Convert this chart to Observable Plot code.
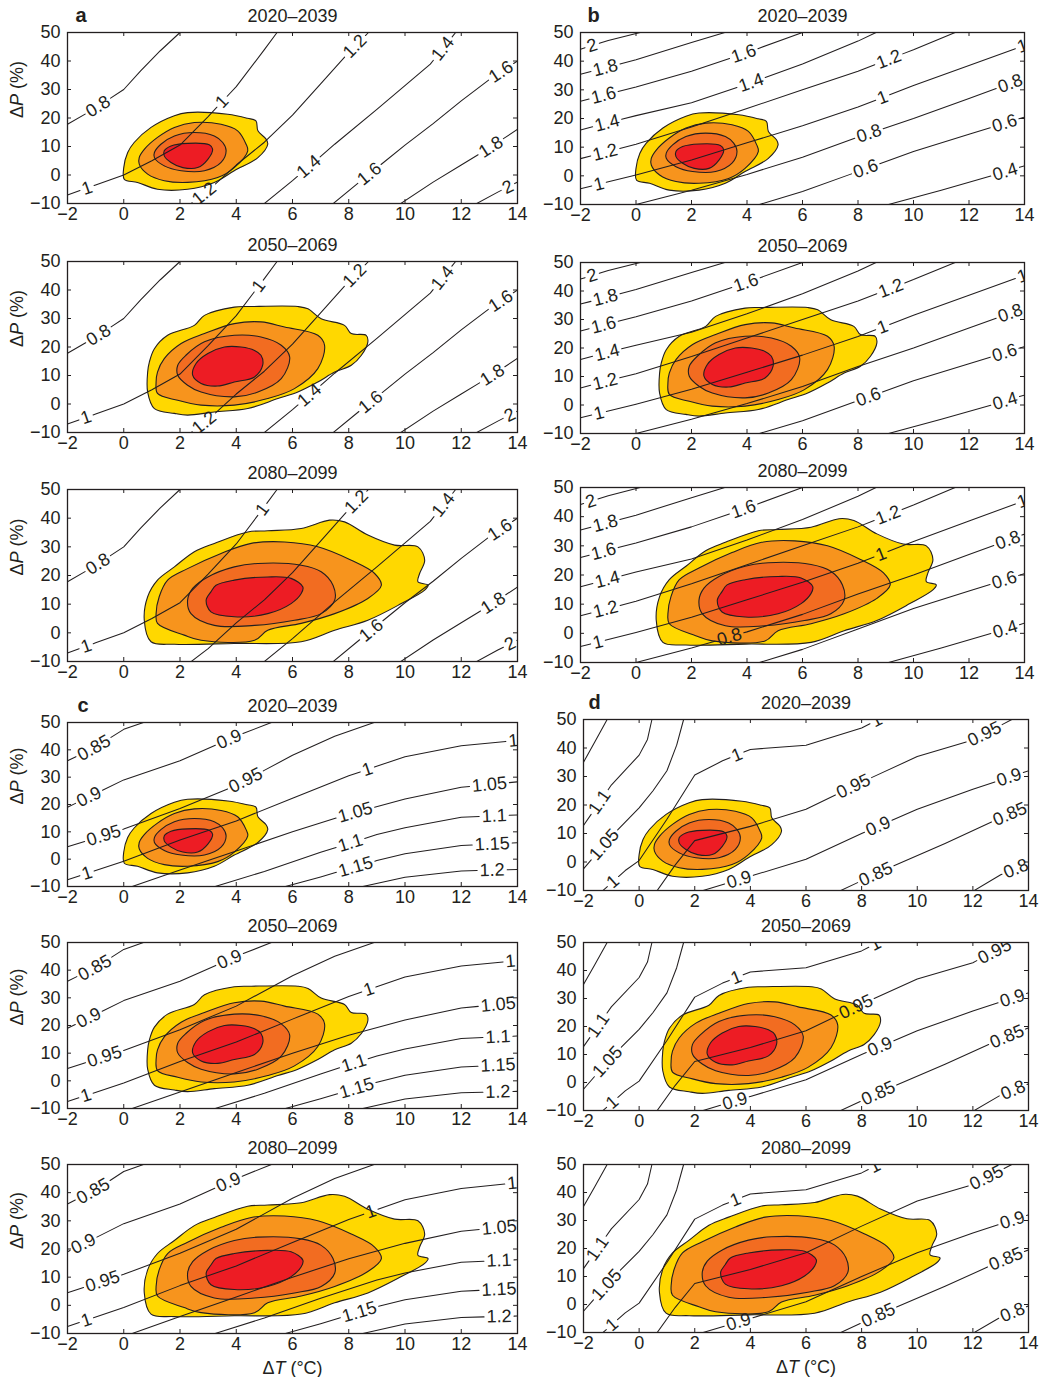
<!DOCTYPE html>
<html><head><meta charset="utf-8">
<script src="https://cdn.jsdelivr.net/npm/d3@7"></script>
<script src="https://cdn.jsdelivr.net/npm/@observablehq/plot@0.6"></script>
<style>
body{margin:0;background:#fff;}
#fig{position:relative;width:1052px;height:1377px;overflow:hidden;font-family:"Liberation Sans",Arial,Helvetica,sans-serif;}
#fig svg{position:absolute;overflow:visible;}
</style></head><body><div id="fig"></div>
<script>
// ---------------- data ----------------
const groupLetters = ["a","b","c","d"];
const periods = ["2020–2039","2050–2069","2080–2099"];
const xTicks = [-2,0,2,4,6,8,10,12,14];
const yTicks = [-10,0,10,20,30,40,50];
const blobColors = ["#FFD800","#F7941D","#F26C21","#ED1C24"];

// contour lines of the response surfaces (ΔT, ΔP)
const contoursA = [
  {level:"0.8", pts:[[-2,17.8],[-1,23.5],[0,30],[0.6,36.5],[1.3,43.6],[2,50]]},
  {level:"1",   pts:[[-2,-7],[-1,-3.5],[0,0],[1,5],[2,10.5],[3,20.5],[4,31],[5,44],[5.45,50]]},
  {level:"1.2", pts:[[2.4,-10],[3,-5.5],[4,3.5],[5,11.5],[6,21],[7,32],[8,43],[8.7,50]]},
  {level:"1.4", pts:[[5,-10],[6,-2],[7.5,10.8],[9,23],[10.9,38.9],[11.8,50]]},
  {level:"1.6", pts:[[7.45,-10],[8.5,-1.5],[10,10.5],[11,18],[12,26],[13,33.5],[14,40]]},
  {level:"1.8", pts:[[9.85,-10],[11,-2.5],[12,3.5],[13,9.5],[14,16]]},
  {level:"2",   pts:[[12.55,-10],[13.3,-6],[14,-2.5]]}
];
const contoursB = [
  {level:"2",   pts:[[-2,44.2],[-1,47.2],[0.15,50]]},
  {level:"1.8", pts:[[-2,35.4],[0,40.5],[2,46.5],[3.2,50]]},
  {level:"1.6", pts:[[-2,26],[0,31],[2,36.5],[4,43],[6,50]]},
  {level:"1.4", pts:[[-2,16],[0,21],[2,25.5],[4,32],[6,39],[8,47],[8.65,50]]},
  {level:"1.2", pts:[[-2,6],[0,11],[2,17],[4,23.5],[6,30],[8,36.5],[10,44],[11.5,50]]},
  {level:"1",   pts:[[-2,-4.5],[0,0.3],[2,5.5],[4,11.5],[6,17.5],[8,24],[10,31.5],[12,38.5],[14,45.5]]},
  {level:"0.8", pts:[[0,-10],[2,-5],[4,0.5],[6,6.5],[8,13.5],[10,20],[12,27],[14,34]]},
  {level:"0.6", pts:[[4.45,-10],[6,-5.5],[8,1.5],[10,8.5],[12,14.5],[14,20.5]]},
  {level:"0.4", pts:[[9.1,-10],[11,-5],[13,0.5],[14,3.5]]}
];
const contoursC = [
  {level:"0.85", pts:[[-2,36],[-1,41],[0,47.5],[0.7,50]]},
  {level:"0.9",  pts:[[-2,19],[0,29],[2,36],[4,45],[5.25,50]]},
  {level:"0.95", pts:[[-2,4.5],[0,11],[2,18.5],[4,27],[6,38],[7.5,45],[8.9,50]]},
  {level:"1",    pts:[[-2,-7.5],[0,-0.8],[2,7],[4,14],[6,22.3],[8,30.5],[10,37.5],[12,41.5],[14,43.5]]},
  {level:"1.05", pts:[[0.3,-10],[2,-4],[4,3],[6,10],[8,16.5],[10,22],[12,26.3],[14,28.3]]},
  {level:"1.1",  pts:[[3.25,-10],[5,-4.5],[7,2.5],[9,9],[10,11.5],[12,15.3],[14,16.2]]},
  {level:"1.15", pts:[[5.75,-10],[7,-6.5],[9,-0.5],[10,2],[12,5],[14,6]]},
  {level:"1.2",  pts:[[8.5,-10],[10,-6.6],[12,-4.3],[14,-3.8]]}
];
const contoursD = [
  {level:"1.15", pts:[[-2,35],[-1.6,42],[-1.15,50]]},
  {level:"1.1",  pts:[[-2,12.8],[-1,27],[0,37.5],[0.3,43],[0.46,50]]},
  {level:"1.05", pts:[[-2,-2.4],[-1,9],[0,19],[0.5,25],[1,32],[1.35,41],[1.6,50]]},
  {level:"1",    pts:[[-1.3,-10],[-0.5,-3],[0,0.5],[1,15],[2,30.5],[3,35.5],[4,39.5],[6,41],[8,47],[8.6,50]]},
  {level:"0.95", pts:[[0.65,-10],[1.3,-1],[2,7.5],[4,12.5],[6,18.5],[8,28],[10,37],[12,42.8],[13.4,50]]},
  {level:"0.9",  pts:[[2.3,-10],[4,-5],[6,1],[8,10],[10,18.5],[12,25.5],[14,32]]},
  {level:"0.85", pts:[[7.25,-10],[9,-2],[11,6.5],[13,15.5],[14,19.5]]},
  {level:"0.8",  pts:[[12.05,-10],[13,-4.5],[14,-0.5]]}
];

// inline contour labels per panel: [text, ΔT, ΔP]
const labelsA = [
  [["0.8",-0.93,24.3],["1",-1.29,-5],["1",3.4,26.6],["1.2",2.87,-6.7],["1.2",8.27,44.7],["1.4",6.66,2.0],["1.4",11.3,44.7],["1.6",8.74,0.3],["1.6",13.43,36],["1.8",13.07,9.6],["2",13.67,-4.4]],
  [["0.8",-0.93,24.7],["1",-1.35,-4.5],["1",4.77,41.6],["1.2",2.75,-5.1],["1.2",8.27,44.5],["1.4",6.6,3.1],["1.4",11.3,44.5],["1.6",8.8,0.4],["1.6",13.43,35.8],["1.8",13.07,10.7],["2",13.7,-3.3]],
  [["0.8",-0.93,24.2],["1",-1.35,-4.3],["1",4.88,43.4],["1.2",8.33,45.1],["1.4",11.3,45.1],["1.6",8.8,0.9],["1.6",13.43,35.2],["1.8",13.07,11.4],["2",13.7,-3.1]]
];
const labelsB = [
  [["2",-1.6,46.1],["1.8",-1.1,37.7],["1.6",-1.16,27.8],["1.4",-1.04,18.4],["1.2",-1.1,7.9],["1",-1.34,-2.6],["1.6",3.89,42.4],["1.4",4.13,33],["1.2",9.11,40.6],["1",8.87,27.8],["1",13.9,45.9],["0.8",8.39,14.9],["0.8",13.5,31.9],["0.6",8.27,2.6],["0.6",13.3,17.8],["0.4",13.3,1.5]],
  [["2",-1.6,46.1],["1.8",-1.1,37.7],["1.6",-1.16,27.8],["1.4",-1.04,18.4],["1.2",-1.1,7.9],["1",-1.34,-2.6],["1.6",3.95,43.3],["1.2",9.17,41.2],["1",8.81,29.3],["1",13.9,45.9],["0.8",13.5,31.9],["0.6",8.38,2.6],["0.6",13.3,17.8],["0.4",13.3,1.5]],
  [["2",-1.64,45.6],["1.8",-1.1,37.6],["1.6",-1.16,27.9],["1.4",-1.04,18.7],["1.2",-1.1,8.4],["1",-1.4,-2],["1.6",3.89,42.2],["1.2",9.11,40],["1",8.75,29],["1",13.9,45.9],["0.8",13.4,31.9],["0.8",3.35,-0.8],["0.6",13.3,17.5],["0.4",13.3,1.5]]
];
const labelsC = [
  [["0.85",-1.05,40.5],["0.9",-1.23,22.7],["0.95",-0.75,9.9],["1",-1.31,-5.1],["0.9",3.71,44.7],["0.95",4.3,29.5],["1",8.65,33.1],["1",13.85,43.5],["1.05",8.23,17.2],["1.05",13,27.6],["1.1",8.05,6.2],["1.1",13.17,16],["1.15",8.23,-2.3],["1.15",13.1,5.6],["1.2",13.1,-4.2]],
  [["0.85",-1.07,41.7],["0.9",-1.25,22.9],["0.95",-0.72,9.9],["1",-1.36,-4.8],["0.9",3.73,44.6],["1",8.7,33.4],["1",13.75,43.5],["1.05",13.3,29],["1.1",8.13,8],["1.1",13.3,16.9],["1.15",8.27,-2.2],["1.15",13.3,6.8],["1.2",13.3,-2.2]],
  [["0.85",-1.16,42],["0.9",-1.46,22.4],["0.9",3.72,43.8],["0.95",-0.8,10],["1",-1.36,-4.3],["1",8.77,33.7],["1",13.82,42.6],["1.05",13.34,28.4],["1.1",13.34,16.5],["1.15",8.35,-1.3],["1.15",13.34,6.4],["1.2",13.34,-2.5]]
];
const labelsD = [
  [["1.1",-1.34,20.5],["1.05",-1.22,5.8],["1",-0.92,-7.1],["1",3.52,37.5],["1",8.55,49.5],["0.95",7.72,26.3],["0.95",12.47,43.9],["0.9",3.58,-5.9],["0.9",8.56,13.4],["0.9",13.3,29.8],["0.85",8.5,-4.1],["0.85",13.3,17.5],["0.8",13.55,-2.4]],
  [["1.1",-1.36,19.7],["1.05",-1.04,6.6],["1",-0.92,-7.6],["1",3.49,37.5],["1",8.5,49.4],["0.95",7.78,27.4],["0.95",12.89,44.7],["0.9",3.4,-5.2],["0.9",8.62,13.8],["0.9",13.37,31.6],["0.85",8.56,-2.9],["0.85",13.19,17.3],["0.8",13.43,-2.3]],
  [["1.1",-1.4,19.3],["1.05",-1.07,6.2],["1",-0.95,-7.5],["1",3.46,37.5],["1",8.49,49.2],["0.95",12.5,45],["0.9",3.56,-5.7],["0.9",13.36,31.9],["0.85",8.55,-2.7],["0.85",13.18,16.4],["0.8",13.42,-2.7]]
];

// joint probability regions (outer yellow → inner red), per period
const blobs2020 = [
  [[0,2.6],[0.02,-1.5],[0.49,-2.6],[1.2,-5],[2.27,-5],[3.22,-2.6],[3.93,1.5],[4.77,6.1],[5.12,10.8],[5.06,12.6],[4.77,15.5],[4.7,19],[4.4,19.9],[3.7,21.3],[2.27,21.9],[1.8,20.8],[0.97,16.7],[0.37,11.4],[0.14,7.9]],
  [[0.55,3.8],[0.85,0.3],[1.44,-2],[2.27,-2.6],[3.34,-0.9],[3.93,2.6],[4.41,8.5],[4.35,10.8],[4.05,15.5],[3.46,17.8],[2.51,18.4],[1.8,16.7],[1.2,13.2],[0.73,9],[0.55,6.1]],
  [[1.09,6.1],[1.44,3.2],[2.04,1.5],[2.87,1.5],[3.46,4.4],[3.64,8.5],[3.52,11.4],[3.22,13.7],[2.51,14.9],[1.8,13.7],[1.32,10.8],[1.09,7.9]],
  [[1.44,6.7],[1.68,4.4],[2.1,2.6],[2.63,2.6],[2.99,5.5],[3.16,9.1],[3.04,10.6],[2.27,11.1],[1.68,10.2],[1.44,8.5]]
];
const blobs2050 = [
  [[0.85,11.2],[0.85,4.2],[1.09,-1.6],[1.8,-3.3],[2.27,-3.9],[3.22,-2.8],[4.41,-1.6],[5.48,1.9],[6.19,4.2],[6.9,7.7],[7.5,11.2],[8.09,13.6],[8.45,17.1],[8.68,21.8],[8.62,24.1],[8.09,24.7],[7.85,27.6],[7.02,29.9],[6.55,33.4],[6.19,34.2],[4.53,34.2],[3.93,34],[2.87,31.1],[2.51,27.6],[1.56,24.1],[1.09,19.4],[0.91,14.7]],
  [[1.15,7.7],[1.2,3.7],[1.92,1.3],[2.75,-0.4],[3.93,-0.4],[5.12,1.9],[6.07,5.4],[6.9,12.4],[7.14,20.6],[6.9,24.1],[5.72,27],[4.88,28.8],[3.93,28.2],[2.87,24.7],[2.04,21.2],[1.44,15.9],[1.2,11.2]],
  [[1.92,10.1],[2.27,6.6],[2.75,4.2],[3.93,2.5],[4.77,4.2],[5.6,8.9],[5.9,16.5],[5.6,20.6],[4.88,23.5],[3.93,24.1],[2.87,21.8],[2.21,17.1],[1.92,13.6]],
  [[2.45,10.1],[2.75,7.2],[3.34,6.3],[3.93,7.7],[4.65,9.5],[4.94,13.6],[4.88,17.1],[4.65,18.8],[4.17,20],[3.58,20],[2.99,17.7],[2.57,14.2]]
];
const blobs2080 = [
  [[0.73,4.4],[0.97,-3.1],[1.8,-4],[3.93,-3.7],[6.31,-3.1],[7.5,0.9],[8.68,4.4],[9.87,10.2],[10.7,14.9],[10.82,16.6],[10.46,17.8],[10.52,20.7],[10.7,25.3],[10.46,30],[9.63,30.6],[8.68,34.1],[7.85,38.7],[7.32,39.3],[6.31,36.4],[5.12,35.6],[4.41,35.2],[3.22,31.2],[2.51,28.3],[1.8,23],[1.2,18.4],[0.85,12.6]],
  [[1.15,6.7],[1.2,3.3],[2.15,-0.8],[2.75,-2.6],[4.65,-2.6],[5.12,0.9],[6.31,3.3],[7.5,6.7],[8.68,12],[9.16,16.6],[8.92,20.7],[8.09,25.3],[6.9,30],[5.72,31.7],[4.53,31.2],[3.46,27.7],[2.27,22.4],[1.56,18.4],[1.26,12.6]],
  [[2.27,11.4],[2.39,6.7],[3.22,2.6],[4.65,2.6],[6.07,4.4],[7.02,6.7],[7.5,11.4],[7.44,16.6],[7.02,21.3],[6.31,23.6],[4.77,24.2],[3.93,23],[2.99,19.5],[2.45,15.5]],
  [[2.93,11.4],[3.1,7.3],[3.93,5.6],[5.12,6.7],[5.95,10.2],[6.31,13.7],[6.37,16],[5.95,19],[5.12,19.5],[3.93,18.4],[3.28,16.6],[3.1,14.3]]
];

// ---------------- layout & style ----------------
const ink = "#231F20";
const fontFamily = '"Liberation Sans", Arial, Helvetica, sans-serif';
const FS = 18;
const groups = {
  a: {contours: contoursA, labels: labelsA, x0:67,  x1:517,  rows:[[32,203],[261,432],[489,661]],   letterDx:8,  yLabel:true,  xLabel:false},
  b: {contours: contoursB, labels: labelsB, x0:580, x1:1024, rows:[[32,204],[262,433],[487,662]],   letterDx:7,  yLabel:false, xLabel:false},
  c: {contours: contoursC, labels: labelsC, x0:67,  x1:517,  rows:[[722,886],[942,1108],[1164,1333]], letterDx:10, yLabel:true,  xLabel:true},
  d: {contours: contoursD, labels: labelsD, x0:583, x1:1028, rows:[[719,890],[942,1110],[1164,1332]], letterDx:5,  yLabel:false, xLabel:true}
};
const blobsByPeriod = [blobs2020, blobs2050, blobs2080];

function textWidth(s) { let w = 0; for (const ch of s) w += (ch === ".") ? 0.278 : 0.556; return w * FS; }

function pointAt(P, S, s) {
  const L = S[S.length - 1];
  s = Math.max(0, Math.min(L, s));
  let i = 1;
  while (i < S.length - 1 && S[i] < s) i++;
  const d = S[i] - S[i - 1];
  const t = d > 0 ? (s - S[i - 1]) / d : 0;
  return [P[i - 1][0] + t * (P[i][0] - P[i - 1][0]), P[i - 1][1] + t * (P[i][1] - P[i - 1][1])];
}

// cut gaps in contour lines where labels sit; compute label position/rotation
function buildContours(contours, labels, W, H) {
  const sx = d3.scaleLinear([-2, 14], [0, W]);
  const sy = d3.scaleLinear([-10, 50], [H, 0]);
  const segs = [], texts = [];
  let id = 0;
  contours.forEach(c => {
    const P = c.pts.map(([x, y]) => [sx(x), sy(y)]);
    const S = [0];
    for (let i = 1; i < P.length; i++) S.push(S[i - 1] + Math.hypot(P[i][0] - P[i - 1][0], P[i][1] - P[i - 1][1]));
    const L = S[S.length - 1];
    const cuts = [];
    labels.filter(l => l[0] === c.level).forEach(([lev, lx, ly]) => {
      const q = [sx(lx), sy(ly)];
      let best = {d: Infinity, s: 0};
      for (let i = 1; i < P.length; i++) {
        const ax = P[i - 1][0], ay = P[i - 1][1], bx = P[i][0], by = P[i][1];
        const vx = bx - ax, vy = by - ay, len2 = vx * vx + vy * vy;
        let t = len2 > 0 ? ((q[0] - ax) * vx + (q[1] - ay) * vy) / len2 : 0;
        t = Math.max(0, Math.min(1, t));
        const px = ax + t * vx, py = ay + t * vy;
        const d = Math.hypot(q[0] - px, q[1] - py);
        if (d < best.d) best = {d, s: S[i - 1] + t * (S[i] - S[i - 1])};
      }
      const w = textWidth(lev) / 2 + 2.5;
      cuts.push([best.s - w, best.s + w]);
      const a = pointAt(P, S, best.s - w), b = pointAt(P, S, best.s + w);
      let ang = Math.atan2(b[1] - a[1], b[0] - a[0]) * 180 / Math.PI;
      if (ang > 90) ang -= 180;
      if (ang < -90) ang += 180;
      const m = pointAt(P, S, best.s);
      texts.push({x: sx.invert(m[0]), y: sy.invert(m[1]), text: lev, rotate: ang});
    });
    cuts.sort((u, v) => u[0] - v[0]);
    const kept = [];
    let cur = 0;
    for (const [u, v] of cuts) {
      if (u > cur) kept.push([cur, u]);
      cur = Math.max(cur, v);
    }
    if (cur < L) kept.push([cur, L]);
    for (const [u, v] of kept) {
      if (v - u < 0.5) continue;
      const pts = [pointAt(P, S, u)];
      for (let k = 0; k < P.length; k++) if (S[k] > u && S[k] < v) pts.push(P[k]);
      pts.push(pointAt(P, S, v));
      pts.forEach(p => segs.push({x: sx.invert(p[0]), y: sy.invert(p[1]), z: id}));
      id++;
    }
  });
  return {segs, texts};
}

function italicize(svg) {
  svg.querySelectorAll("text").forEach(t => {
    const s = t.textContent;
    if (s === "ΔP (%)" || s === "ΔT (°C)") {
      while (t.firstChild) t.removeChild(t.firstChild);
      t.appendChild(document.createTextNode("Δ"));
      const ts = document.createElementNS("http://www.w3.org/2000/svg", "tspan");
      ts.setAttribute("font-style", "italic");
      ts.textContent = s[1];
      t.appendChild(ts);
      t.appendChild(document.createTextNode(s.slice(2)));
    }
  });
}

const fmt = d => d < 0 ? "\u2212" + (-d) : String(d);
const fig = document.getElementById("fig");

groupLetters.forEach(g => {
  const G = groups[g];
  G.rows.forEach(([y0, y1], r) => {
    const W = G.x1 - G.x0, H = y1 - y0;
    const ml = 62, mr = 24, mt = 38, mb = (G.xLabel && r === 2) ? 46 : 28;
    const {segs, texts} = buildContours(G.contours, G.labels[r], W, H);
    const blobs = blobsByPeriod[r];
    const marks = [];
    blobs.forEach((poly, i) => {
      marks.push(Plot.line(poly, {x: d => d[0], y: d => d[1], curve: "catmull-rom-closed", fill: blobColors[i], stroke: ink, strokeWidth: 1.1, clip: true}));
    });
    marks.push(Plot.line(segs, {x: "x", y: "y", z: "z", stroke: ink, strokeWidth: 1.05, clip: true}));
    marks.push(Plot.text(texts, {x: "x", y: "y", text: "text", rotate: "rotate", fontSize: FS, fill: ink, clip: true}));
    // inward ticks on all four sides
    marks.push(Plot.tickX(xTicks, {x: d => d, insetTop: H - 4, stroke: ink}));
    marks.push(Plot.tickX(xTicks, {x: d => d, insetBottom: H - 4, stroke: ink}));
    marks.push(Plot.tickY(yTicks, {y: d => d, insetRight: W - 4, stroke: ink}));
    marks.push(Plot.tickY(yTicks, {y: d => d, insetLeft: W - 4, stroke: ink}));
    marks.push(Plot.frame({stroke: ink, strokeWidth: 1.3}));
    marks.push(Plot.text([periods[r]], {frameAnchor: "top", lineAnchor: "middle", dy: -16, fontSize: 18, fill: ink}));
    if (r === 0) marks.push(Plot.text([g], {frameAnchor: "top-left", textAnchor: "start", lineAnchor: "middle", dx: G.letterDx, dy: -17, fontSize: 20, fontWeight: "bold", fill: ink}));
    if (G.yLabel) marks.push(Plot.text(["ΔP (%)"], {frameAnchor: "left", lineAnchor: "middle", dx: -50, rotate: -90, fontSize: FS, fill: ink}));
    if (G.xLabel && r === 2) marks.push(Plot.text(["ΔT (°C)"], {frameAnchor: "bottom", lineAnchor: "middle", dy: 35, fontSize: FS, fill: ink}));
    const svg = Plot.plot({
      width: W + ml + mr, height: H + mt + mb,
      marginLeft: ml, marginRight: mr, marginTop: mt, marginBottom: mb,
      style: {background: "transparent", fontFamily, fontSize: FS + "px", color: ink, overflow: "visible"},
      x: {domain: [-2, 14], ticks: xTicks, tickSize: 0, tickPadding: 4, tickFormat: fmt, label: null},
      y: {domain: [-10, 50], ticks: yTicks, tickSize: 0, tickPadding: 7, tickFormat: fmt, label: null},
      marks
    });
    italicize(svg);
    svg.style.left = (G.x0 - ml) + "px";
    svg.style.top = (y0 - mt) + "px";
    svg.style.maxWidth = "none";
    fig.appendChild(svg);
  });
});
</script></body></html>
